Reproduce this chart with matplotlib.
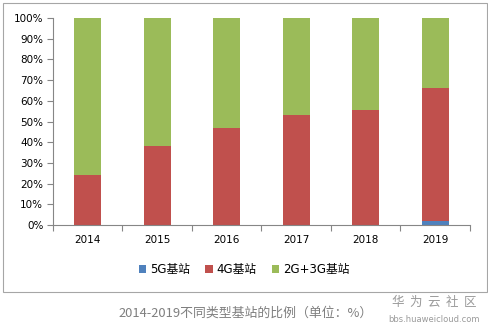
import matplotlib
matplotlib.use("Agg")
import matplotlib.pyplot as plt
import numpy as np
from matplotlib.patches import Rectangle, Patch

plt.rcParams['font.family'] = ['DejaVu Sans', 'Noto Sans CJK SC']

years = ['2014', '2015', '2016', '2017', '2018', '2019']
g5 = [0, 0, 0, 0, 0, 2]
g4 = [24, 38, 47, 53, 55.5, 64]
g23 = [76, 62, 53, 47, 44.5, 34]
series_names = ['5G基站', '4G基站', '2G+3G基站']
colors = ['#4F81BD', '#C0504D', '#9BBB59']
caption = '2014-2019不同类型基站的比例（单位：%）'

fig = plt.figure(figsize=(4.89, 3.32), dpi=100)
fig.patch.set_facecolor('white')

# outer border
fig.add_artist(Rectangle((3/489, 1-292/332), 484/489, 289/332, transform=fig.transFigure,
                         fill=False, edgecolor='#A6A6A6', linewidth=0.8))

ax = fig.add_axes([53/489, 1-225/332, 417/489, 207/332])
x = np.arange(len(years))
w = 0.39
b = np.zeros(len(years))
for vals, c, n in zip([g5, g4, g23], colors, series_names):
    ax.bar(x, vals, w, bottom=b, color=c, label=n, linewidth=0)
    b = b + np.array(vals)

ax.set_xlim(-0.5, len(years)-0.5)
ax.set_ylim(0, 100)
ax.set_yticks(np.arange(0, 101, 10))
ax.set_yticklabels([f'{v}%' for v in range(0, 101, 10)], fontsize=7.5)
ax.set_xticks(x)
ax.set_xticklabels(years, fontsize=7.5)
ax.set_xticks(np.arange(-0.5, len(years), 1), minor=True)
ax.tick_params(axis='x', which='major', length=0, pad=7)
ax.tick_params(axis='x', which='minor', length=4, color='#868686', width=0.8)
ax.tick_params(axis='y', length=4, color='#868686', width=0.8, pad=3)
for s in ['top', 'right']:
    ax.spines[s].set_visible(False)
for s in ['left', 'bottom']:
    ax.spines[s].set_color('#868686')
    ax.spines[s].set_linewidth(0.8)

handles = [Patch(facecolor=c, edgecolor='none') for c in colors]
fig.legend(handles, series_names, loc='center', bbox_to_anchor=(244/489, 1-270/332),
           ncol=3, frameon=False, handlelength=0.65, handleheight=0.65,
           handletextpad=0.3, columnspacing=1.3,
           prop={'family': ['DejaVu Sans', 'Noto Sans CJK SC'], 'size': 8.5})

fig.text(246/489, 1-313/332, caption, ha='center', va='center', fontsize=9.3,
         color='#7F7F7F', family=['Noto Sans CJK SC', 'DejaVu Sans'])
fig.text(434/489, 1-302/332, '华  为  云  社  区', ha='center', va='center', fontsize=9,
         color='#9A9A9A', family=['Noto Sans CJK SC'])
fig.text(434/489, 1-320/332, 'bbs.huaweicloud.com', ha='center', va='center', fontsize=6,
         color='#9A9A9A')

fig.savefig('out.png', dpi=100)
